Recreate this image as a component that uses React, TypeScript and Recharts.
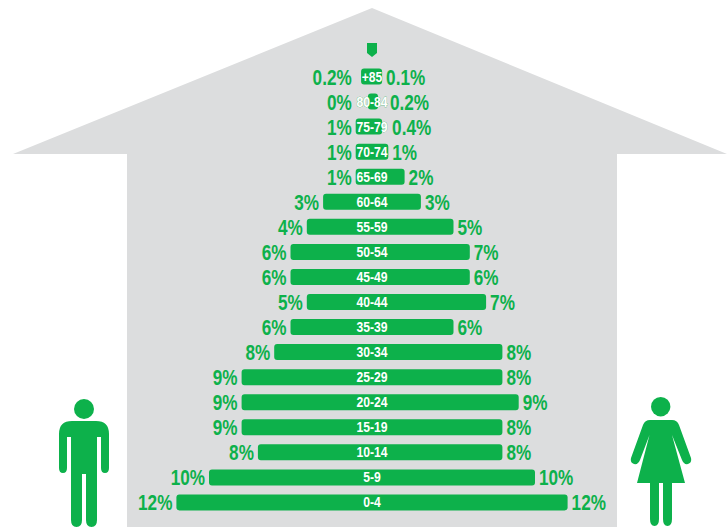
import { Bar, BarChart, LabelList, XAxis, YAxis } from "recharts";

const ages = ["+85", "80-84", "75-79", "70-74", "65-69", "60-64", "55-59", "50-54", "45-49", "40-44", "35-39", "30-34", "25-29", "20-24", "15-19", "10-14", "5-9", "0-4"];
// bar lengths, the printed labels do not always agree with them
const maleValues = [0.67, 0.25, 1, 1, 1, 3, 4, 5, 5, 4, 5, 6, 8, 8, 8, 7, 10, 12];
const femaleValues = [0.62, 0.37, 0.62, 1, 2, 3, 5, 6, 6, 7, 5, 8, 8, 9, 8, 8, 10, 12];
const maleLabels = ["0.2%", "0%", "1%", "1%", "1%", "3%", "4%", "6%", "6%", "5%", "6%", "8%", "9%", "9%", "9%", "8%", "10%", "12%"];
const femaleLabels = ["0.1%", "0.2%", "0.4%", "1%", "2%", "3%", "5%", "7%", "6%", "7%", "6%", "8%", "8%", "9%", "8%", "8%", "10%", "12%"];

const GREEN = "#0db14b";
const GREY = "#dcddde";
const FONT = "'Liberation Sans', Arial, sans-serif";
const NARROW = 0.78; // the original type is a condensed bold, not installed here

const data = ages.map((age, i) => ({
  age,
  range: [-maleValues[i], femaleValues[i]],
  male: maleValues[i],
  female: femaleValues[i],
  maleLabel: maleLabels[i],
  femaleLabel: femaleLabels[i],
}));

// right side labels in the top rows sit a bit further out than their bars
const femaleNudge: Record<string, number> = { "80-84": 8, "75-79": 6 };

function SideLabels(props: any) {
  const { x, y, width, height, index } = props;
  const row = data[index];
  const midY = y + height / 2 + 8;
  const unit = width / (row.male + row.female);
  const left = row.male < 1 ? x + (row.male - 1) * unit : x;
  const right = x + width + (femaleNudge[row.age] ?? 0);
  return (
    <g fontFamily={FONT} fontWeight="bold" fontSize={22} fill={GREEN}>
      <text transform={`translate(${left - 4} ${midY}) scale(${NARROW} 1)`} textAnchor="end">{row.maleLabel}</text>
      <text transform={`translate(${right + 4} ${midY}) scale(${NARROW} 1)`} textAnchor="start">{row.femaleLabel}</text>
    </g>
  );
}

function AgeLabel(props: any) {
  const { x, y, width, height, index } = props;
  const row = data[index];
  const center = x + (row.male / (row.male + row.female)) * width;
  const overflow = row.male + row.female < 2.5;
  return (
    <text
      transform={`translate(${center} ${y + height / 2 + 5}) scale(${NARROW + 0.03} 1)`}
      textAnchor="middle"
      fontFamily={FONT}
      fontWeight="bold"
      fontSize={15}
      fill="#ffffff"
      stroke={overflow ? GREEN : "none"}
      strokeWidth={overflow ? 0.5 : 0}
      paintOrder="stroke"
    >
      {row.age}
    </text>
  );
}

function House() {
  return (
    <svg width={727} height={528} style={{ position: "absolute", left: 0, top: 0 }}>
      <path d="M372 8 L727 154 L617 154 L617 527 L127 527 L127 154 L13 154 Z" fill={GREY} />
      <path d="M367 43 H377 V53 L372 57 L367 53 Z" fill={GREEN} />
      {/* man */}
      <g fill={GREEN}>
        <circle cx={84} cy={409} r={10} />
        <path d="M72 421 H96 Q109 421 109 434 V468 Q109 473 105 473 Q101 473 101 468 V437 H97 V520 Q97 527 91.5 527 Q86 527 86 520 V474 H82 V520 Q82 527 76.5 527 Q71 527 71 520 V437 H67 V468 Q67 473 63 473 Q59 473 59 468 V434 Q59 421 72 421 Z" />
      </g>
      {/* woman */}
      <g fill={GREEN}>
        <circle cx={660.700} cy={406.700} r={9.700} />
        <path d="M650 420 H672 Q677 420 679 425 L691 458 Q692 463 688 464 Q684 465 682 460 L672 435 L685 483 H672 V519 Q672 526 667.500 526 Q663 526 663 519 V483 H659 V519 Q659 526 654.500 526 Q650 526 650 519 V483 H637 L649.500 435 L640 460 Q638 465 634 464 Q630 463 631 458 L643 425 Q645 420 650 420 Z" />
      </g>
    </svg>
  );
}

export default function App() {
  return (
    <div style={{ position: "absolute", left: 0, top: 0, width: 727, height: 528, overflow: "hidden", background: "#ffffff" }}>
      <House />
      <div style={{ position: "absolute", left: 0, top: 0 }}>
        <BarChart
          width={727}
          height={528}
          data={data}
          layout="vertical"
          margin={{ top: 63.5, right: 12.7, bottom: 13.5, left: 29.7 }}
        >
          <XAxis type="number" domain={[-21, 21]} hide />
          <YAxis type="category" dataKey="age" hide />
          <Bar dataKey="range" fill={GREEN} barSize={16} radius={3} isAnimationActive={false}>
            <LabelList dataKey="age" content={SideLabels} />
            <LabelList dataKey="age" content={AgeLabel} />
          </Bar>
        </BarChart>
      </div>
    </div>
  );
}
